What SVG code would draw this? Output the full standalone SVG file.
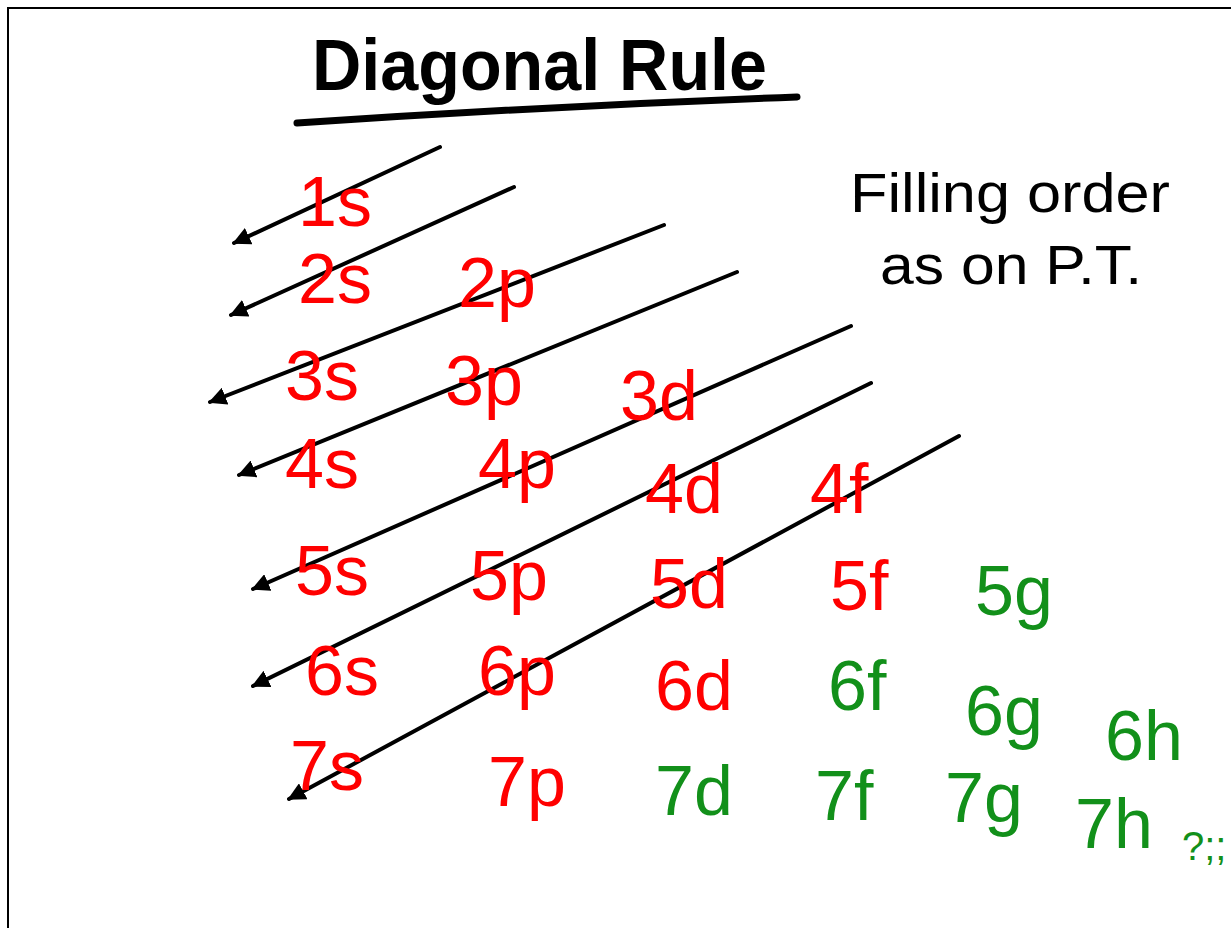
<svg xmlns="http://www.w3.org/2000/svg" width="1231" height="928" viewBox="0 0 1231 928">
<style>
.lbl{font-family:"Liberation Sans","DejaVu Sans",sans-serif;font-size:70px}
.ttl{font-family:"Liberation Sans","DejaVu Sans",sans-serif;font-size:72px;font-weight:bold}
.note{font-family:"Liberation Sans","DejaVu Sans",sans-serif;font-size:56px}
.small{font-family:"Liberation Sans","DejaVu Sans",sans-serif;font-size:40px}
.red{fill:#ff0000}
.grn{fill:#12901a}
.blk{fill:#000}
.conn{stroke:#000;stroke-width:4;fill:none;stroke-linecap:round}
</style>
<defs>
<marker id="ah" viewBox="0 0 10 10" refX="9" refY="5" markerWidth="4.5" markerHeight="4.5" orient="auto" markerUnits="strokeWidth">
<path d="M0,0 L10,5 L0,10 z" fill="#000"/>
</marker>
</defs>
<rect x="0" y="0" width="1231" height="928" fill="#fff"/>
<rect x="8" y="8" width="1240" height="940" fill="none" stroke="#000" stroke-width="2"/>
<g id="title">
<text class="ttl blk" x="312" y="90" textLength="455" lengthAdjust="spacingAndGlyphs">Diagonal Rule</text>
<path d="M297,123 Q550,106 797,97" stroke="#000" stroke-width="7" fill="none" stroke-linecap="round"/>
</g>
<g id="note">
<text class="note blk" x="850" y="212" textLength="320" lengthAdjust="spacingAndGlyphs">Filling order</text>
<text class="note blk" x="880" y="284" textLength="262" lengthAdjust="spacingAndGlyphs">as on P.T.</text>
</g>
<g id="connectors">
<line class="conn" x1="440" y1="147" x2="234" y2="243" marker-end="url(#ah)"/>
<line class="conn" x1="514" y1="187" x2="231" y2="315" marker-end="url(#ah)"/>
<line class="conn" x1="664" y1="225" x2="210" y2="402" marker-end="url(#ah)"/>
<line class="conn" x1="737" y1="272" x2="239" y2="475" marker-end="url(#ah)"/>
<line class="conn" x1="851" y1="326" x2="253" y2="589" marker-end="url(#ah)"/>
<line class="conn" x1="871" y1="383" x2="253" y2="686" marker-end="url(#ah)"/>
<line class="conn" x1="959" y1="436" x2="289" y2="799" marker-end="url(#ah)"/>
</g>
<g id="n1s"><text class="lbl red" x="298" y="226">1s</text></g>
<g id="n2s"><text class="lbl red" x="298" y="303">2s</text></g>
<g id="n2p"><text class="lbl red" x="458" y="307">2p</text></g>
<g id="n3s"><text class="lbl red" x="285" y="400">3s</text></g>
<g id="n3p"><text class="lbl red" x="445" y="405">3p</text></g>
<g id="n3d"><text class="lbl red" x="620" y="420">3d</text></g>
<g id="n4s"><text class="lbl red" x="285" y="488">4s</text></g>
<g id="n4p"><text class="lbl red" x="478" y="488">4p</text></g>
<g id="n4d"><text class="lbl red" x="645" y="513">4d</text></g>
<g id="n4f"><text class="lbl red" x="810" y="513">4f</text></g>
<g id="n5s"><text class="lbl red" x="295" y="595">5s</text></g>
<g id="n5p"><text class="lbl red" x="470" y="600">5p</text></g>
<g id="n5d"><text class="lbl red" x="650" y="608">5d</text></g>
<g id="n5f"><text class="lbl red" x="830" y="610">5f</text></g>
<g id="n5g"><text class="lbl grn" x="975" y="615">5g</text></g>
<g id="n6s"><text class="lbl red" x="305" y="695">6s</text></g>
<g id="n6p"><text class="lbl red" x="478" y="695">6p</text></g>
<g id="n6d"><text class="lbl red" x="655" y="710">6d</text></g>
<g id="n6f"><text class="lbl grn" x="828" y="710">6f</text></g>
<g id="n6g"><text class="lbl grn" x="965" y="735">6g</text></g>
<g id="n6h"><text class="lbl grn" x="1105" y="760">6h</text></g>
<g id="n7s"><text class="lbl red" x="290" y="790">7s</text></g>
<g id="n7p"><text class="lbl red" x="488" y="806">7p</text></g>
<g id="n7d"><text class="lbl grn" x="655" y="815">7d</text></g>
<g id="n7f"><text class="lbl grn" x="815" y="820">7f</text></g>
<g id="n7g"><text class="lbl grn" x="945" y="822">7g</text></g>
<g id="n7h"><text class="lbl grn" x="1075" y="848">7h</text></g>
<g id="more"><text class="small grn" x="1182" y="860">?;;</text></g>
</svg>
